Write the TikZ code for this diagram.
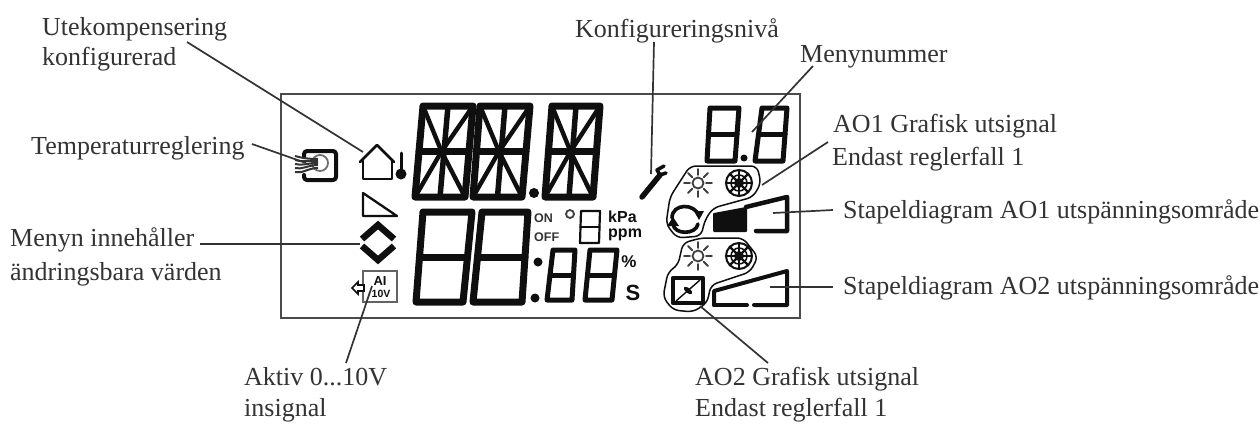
\documentclass[tikz,border=0pt]{standalone}
\usepackage{fontspec}
\setmainfont{Liberation Serif}
\newfontfamily\lcdfont{Liberation Sans}
\definecolor{ink}{gray}{0.2}
\definecolor{lcd}{gray}{0.06}
\tikzset{
  label text/.style={inner sep=0pt,anchor=base west,text=ink,font=\fontsize{26}{28}\selectfont},
  leader/.style={draw=ink,line width=1.7pt},
  lcd line/.style={draw=lcd,line join=round,line cap=round},
  lcd small/.style={inner sep=0pt,text=lcd,font=\lcdfont\bfseries\fontsize{16}{17}\selectfont},
  callout/.style={draw=lcd,line width=1.5pt,rounded corners=6pt},
}
% seven segment digit: top-left x, top-right x, bottom-left x, bottom-right x, top y, bottom y, width
\newcommand\sevenseg[7]{%
  \draw[lcd line,line width=#7pt] (#1,#5) -- (#2,#5) -- (#4,#6) -- (#3,#6) -- cycle;
  \draw[lcd line,line width=#7pt] ({(#1+#3)/2},{(#5+#6)/2}) -- ({(#2+#4)/2},{(#5+#6)/2});
}
% fourteen segment digit
\newcommand\fourteenseg[6]{%
  \sevenseg{#1}{#2}{#3}{#4}{#5}{#6}{7}
  \draw[lcd line,line width=5.5pt] ({(#1+#2)/2},#5) -- ({(#3+#4)/2},#6);
  \draw[lcd line,line width=4.4pt] (#1,#5) -- ({(#3+#4)/2+1.5},{(#5+#6)/2}) -- (#4,#6);
  \draw[lcd line,line width=4.4pt] (#2,#5) -- ({(#3+#4)/2+1.5},{(#5+#6)/2}) -- (#3,#6);
}
\newcommand\sunicon[2]{%
  \begin{scope}[shift={(#1,#2)}]
    \draw[draw=lcd!80,line width=1.8pt] (0,0) circle[radius=5.5pt];
    \foreach \a in {0,45,...,315}
      \draw[draw=lcd!80,line width=1.8pt,line cap=round] (\a:8pt) -- (\a:14pt);
  \end{scope}}
\newcommand\flakeicon[2]{%
  \begin{scope}[shift={(#1,#2)}]
    \draw[draw=lcd,line width=2pt] (0,0) circle[radius=13pt];
    \draw[draw=lcd,line width=1.5pt] (0,0) circle[radius=8pt];
    \foreach \a in {0,45,...,315}
      \draw[draw=lcd,line width=2.2pt] (\a:4pt) -- (\a:13pt);
    \fill[lcd] (0,0) circle[radius=5pt];
  \end{scope}}
\begin{document}
\begin{tikzpicture}[x=1pt,y=-1pt]
\useasboundingbox (0,0) rectangle (1260,423);
\fill[white] (0,0) rectangle (1260,423);
% display frame
\draw[draw=lcd!75,line width=1.8pt] (281,94) rectangle (800,318);

% labels
\node[label text] (ute1) at (42,35) {Utekompensering};
\node[label text] (ute2) at (42,65) {konfigurerad};
\node[label text] (temp) at (31,154) {Temperaturreglering};
\node[label text] (meny1) at (10,246) {Menyn innehåller};
\node[label text] (meny2) at (10,280) {ändringsbara värden};
\node[label text] (aktiv1) at (244,385) {Aktiv 0...10V};
\node[label text] (aktiv2) at (244,416) {insignal};
\node[label text] (konf) at (575,37) {Konfigureringsnivå};
\node[label text] (menynr) at (800,62) {Menynummer};
\node[label text] (ao1a) at (833,132) {AO1 Grafisk utsignal};
\node[label text] (ao1b) at (832,165) {Endast reglerfall 1};
\node[label text] (bar1) at (843,218) {Stapeldiagram AO1 utspänningsområde};
\node[label text] (bar2) at (843,294) {Stapeldiagram AO2 utspänningsområde};
\node[label text] (ao2a) at (695,385) {AO2 Grafisk utsignal};
\node[label text] (ao2b) at (695,416) {Endast reglerfall 1};

% big alphanumeric digits
\fourteenseg{423}{473}{415}{465}{106}{197}
\fourteenseg{480}{530}{473}{522}{106}{197}
\fourteenseg{552}{600}{545}{593}{106}{197}
\fill[lcd] (534,193) circle[radius=5pt];
% lower digits
\sevenseg{423}{472}{416}{463}{212}{302}{7}
\sevenseg{482}{528}{473}{522}{212}{302}{7}
\fill[lcd] (538,262) circle[radius=4.5pt];
\fill[lcd] (535,298) circle[radius=4.5pt];
\sevenseg{553}{575}{547}{572}{250}{300}{5}
\sevenseg{590}{617}{585}{612}{250}{300}{5}
% menu digits
\sevenseg{710}{739}{707}{735}{108}{161}{5}
\sevenseg{762}{787}{755}{783}{108}{161}{5}
\fill[lcd] (744,158) circle[radius=3.5pt];
% unit digit and small marks
\sevenseg{581}{600}{580}{599}{211}{243}{2.2}
\draw[draw=lcd!80,line width=1.8pt] (570,214) circle[radius=4pt];
\node[lcd small,text=lcd!85,font=\lcdfont\bfseries\fontsize{12.5}{13}\selectfont,anchor=west] (on) at (534,218) {ON};
\node[lcd small,text=lcd!85,font=\lcdfont\bfseries\fontsize{12.5}{13}\selectfont,anchor=west] (off) at (534,237) {OFF};
\node[lcd small,anchor=west] (kpa) at (608,217) {kPa};
\node[lcd small,anchor=west] (ppm) at (608,235) {ppm};
\node[lcd small,font=\lcdfont\bfseries\fontsize{17}{18}\selectfont] (pct) at (629,262) {\%};
\node[lcd small,font=\lcdfont\bfseries\fontsize{22}{22}\selectfont] (sec) at (633,293) {S};

% temperature icon
\draw[lcd line,line width=4pt,rounded corners=3pt] (304,157) -- (304,151) -- (336,151) -- (336,180) -- (304,180) -- (304,175);
\draw[draw=lcd!60,line width=1.8pt] (320,163) circle[radius=8pt];
\foreach \yy/\yb in {156/159,160/161,164/163,168/165,172/168}
  \draw[draw=lcd!85,line width=2pt] (295,\yy) .. controls (302,\yy+2) and (308,\yb) .. (318,\yb);

% house with thermometer
\draw[lcd line,line width=2.8pt] (360,162) -- (377,145) -- (394,162);
\draw[lcd line,line width=2.8pt] (363,160) -- (363,179) -- (392,179) -- (392,160);
\draw[lcd line,line width=3pt] (401,153) -- (401,170);
\fill[lcd] (401,174) circle[radius=5.5pt];
% triangle
\draw[lcd line,line width=2.3pt] (363,193) -- (363,216) -- (397,216) -- cycle;
% up down chevrons
\draw[lcd line,line width=6.5pt,line cap=butt,line join=miter] (362,239) -- (378,225) -- (394,239);
\draw[lcd line,line width=6.5pt,line cap=butt,line join=miter] (362,246) -- (378,260) -- (394,246);
% AI box
\draw[draw=lcd!65,line width=1.5pt] (363,271) rectangle (397,302);
\node[lcd small,font=\lcdfont\bfseries\fontsize{13}{13}\selectfont] (ai) at (380,281) {AI};
\node[lcd small,font=\lcdfont\bfseries\fontsize{10.5}{11}\selectfont] (tenv) at (381,294) {10V};
\draw[draw=lcd,line width=1.7pt,fill=white] (352,288) -- (358,282) -- (358,285) -- (364,285) -- (364,291) -- (358,291) -- (358,294) -- cycle;

% wrench
\draw[lcd line,line width=5.5pt] (642,197) -- (660,175);
\draw[lcd line,line width=3.5pt] (660,175) -- (657,170) -- (664,166) (660,175) -- (666,173);

% upper output group
\sunicon{698}{183}
\flakeicon{739}{183}
\draw[callout] (690,166) -- (757,166) -- (761,183) -- (753,197) -- (713,208) -- (705,220) -- (701,236) -- (677,238) -- (666,224) -- (670,197) -- cycle;
\draw[lcd line,line width=3.6pt] (672,218) .. controls (672,203) and (695,203) .. (699,216);
\fill[lcd] (694,211) -- (704,211) -- (699,220) -- cycle;
\draw[lcd line,line width=3.6pt] (698,224) .. controls (696,235) and (674,235) .. (673,224);
\fill[lcd] (667,226) -- (679,226) -- (673,217) -- cycle;
\fill[lcd,draw=lcd,line width=2pt,line join=round] (714,214) -- (746,208) -- (746,231) -- (714,231) -- cycle;
\draw[lcd line,line width=4.5pt] (746,207) -- (787,197) -- (787,231) -- (756,231);

% lower output group
\sunicon{698}{256}
\flakeicon{739}{256}
\draw[callout] (701,238) -- (743,238) -- (758,257) -- (750,272) -- (711,285) -- (707,303) -- (693,312) -- (673,310) -- (663,297) -- (668,272) -- (678,265) -- (683,243) -- cycle;
\draw[lcd line,line width=4.5pt] (673,278) rectangle (703,303);
\draw[lcd line,line width=1.4pt] (676,301) -- (700,280);
\fill[lcd,rotate around={-40:(688,290.5)}] (688,290.5) ellipse[x radius=5pt,y radius=2.5pt];
\draw[lcd line,line width=4pt] (714,305) -- (714,291) -- (787,271) -- (787,305) -- (754,305);
\draw[lcd line,line width=4pt] (714,305) -- (747,305);

% leader anchors
\coordinate (uteS) at (187,42);   \coordinate (uteE) at (363,152);
\coordinate (tmpS) at (252,144);  \coordinate (tmpE) at (306,163);
\coordinate (menS) at (200,244);  \coordinate (menE) at (360,244);
\coordinate (aktS) at (346,363);  \coordinate (aktE) at (372,286);
\coordinate (konS) at (654,42);   \coordinate (konE) at (651,174);
\coordinate (nrS)  at (813,66);   \coordinate (nrE)  at (752,132);
\coordinate (ao1S) at (828,142);  \coordinate (ao1E) at (762,185);
\coordinate (b1S)  at (833,210);  \coordinate (b1E)  at (773,213);
\coordinate (b2S)  at (833,287);  \coordinate (b2E)  at (770,287);
\coordinate (ao2S) at (768,363);  \coordinate (ao2E) at (700,306);
\draw[leader] (uteS) -- (uteE);
\draw[leader] (tmpS) -- (tmpE);
\draw[leader] (menS) -- (menE);
\draw[leader] (aktS) -- (aktE);
\draw[leader] (konS) -- (konE);
\draw[leader] (nrS) -- (nrE);
\draw[leader] (ao1S) -- (ao1E);
\draw[leader] (b1S) -- (b1E);
\draw[leader] (b2S) -- (b2E);
\draw[leader] (ao2S) -- (ao2E);
\end{tikzpicture}
\end{document}
